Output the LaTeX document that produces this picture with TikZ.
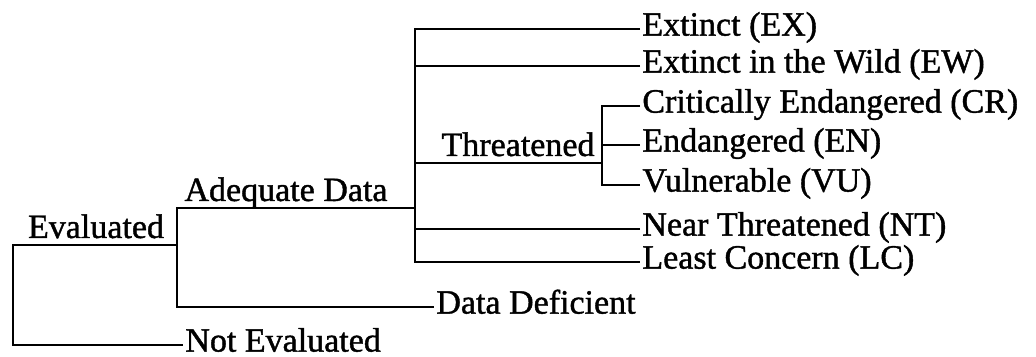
\documentclass[tikz,border=0pt]{standalone}
\usepackage{fontspec}
\setmainfont{Liberation Serif}[BoldFont=Liberation Serif,BoldFeatures={FakeBold=1.2}]
\usetikzlibrary{calc}

\begin{document}
\begin{tikzpicture}[
  x=0.5pt,y=-0.5pt,
  font=\fontsize{17pt}{20pt}\selectfont\bfseries,
  leaf/.style={
    anchor=west,
    inner xsep=1pt,
    inner ysep=0pt,
    text height=0.66em,
    text depth=0pt
  },
  group/.style={anchor=base,inner sep=0pt},
  link/.style={line width=0.6pt,black}
]
  \useasboundingbox (0,0) rectangle (1036,357);
  % branching points
  \coordinate (root) at (13,245);
  \coordinate (evalbar) at (177,245);
  \coordinate (adqbar) at (415,208);
  \coordinate (thrbar) at (602,163);
  % group labels
  \node[group] (eval) at (96,238) {Evaluated};
  \node[group] (adq) at (286,201) {Adequate Data};
  \node[group] (thr) at (518,156) {Threatened};
  % categories
  \node[leaf] (ne) at (183,345) {Not Evaluated};
  \node[leaf] (dd) at (434,307) {Data Deficient};
  \node[leaf] (ex) at (640,29) {Extinct (EX)};
  \node[leaf] (ew) at (640,66) {Extinct in the Wild (EW)};
  \node[leaf] (cr) at (640,106) {Critically Endangered (CR)};
  \node[leaf] (en) at (640,145) {Endangered (EN)};
  \node[leaf] (vu) at (640,185) {Vulnerable (VU)};
  \node[leaf] (nt) at (640,229) {Near Threatened (NT)};
  \node[leaf] (lc) at (640,262) {Least Concern (LC)};
  % tree lines
  \draw[link] (evalbar) -- (root) |- (ne.west);
  \draw[link] (adqbar) -- (adqbar -| evalbar) |- (dd.west);
  \draw[link] (ex.west) -| (adqbar) |- (lc.west);
  \foreach \n in {ew,nt}
    \draw[link] (\n.west) -- (\n.west -| adqbar);
  \draw[link] (thrbar) -- (thrbar -| adqbar);
  \draw[link] (cr.west) -| (thrbar) |- (vu.west);
  \draw[link] (en.west) -- (en.west -| thrbar);
\end{tikzpicture}
\end{document}
